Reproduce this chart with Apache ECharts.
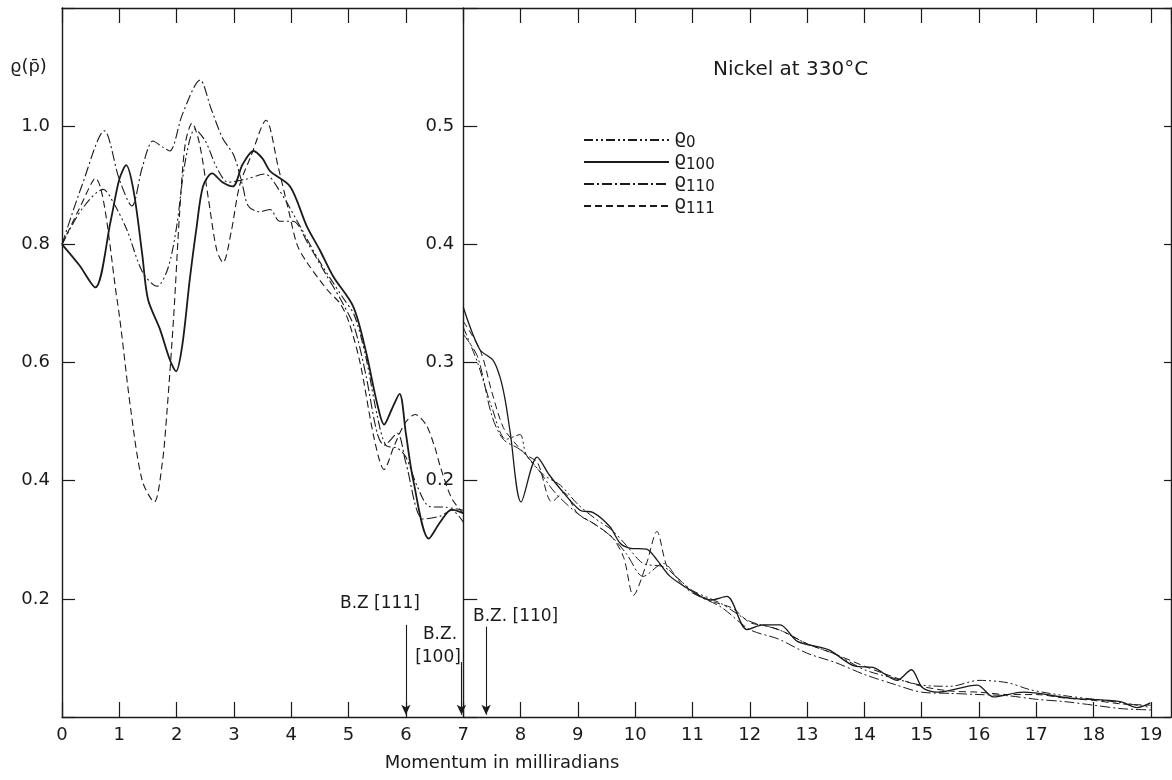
<!DOCTYPE html>
<html>
<head>
<meta charset="utf-8">
<script src="https://cdn.jsdelivr.net/npm/echarts@6/dist/echarts.min.js"></script>
<style>
html, body { margin: 0; padding: 0; background: #fff; }
#chart { width: 1172px; height: 780px; }
</style>
</head>
<body>
<div id="chart"></div>
<script>
// 左半部分 (0-7 mrad, 左侧刻度 0-1.2)
var rho0Left = [[0,0.80],[0.35,0.86],[0.72,0.893],[0.9,0.87],[1.13,0.825],[1.41,0.752],[1.66,0.729],[1.85,0.76],[2.0,0.83],[2.15,0.94],[2.32,0.995],[2.5,0.975],[2.7,0.93],[2.9,0.905],[3.2,0.91],[3.54,0.919],[3.8,0.89],[4.1,0.84],[4.5,0.77],[4.9,0.71],[5.1,0.68],[5.3,0.61],[5.5,0.51],[5.65,0.46],[5.85,0.455],[6.0,0.44],[6.2,0.39],[6.42,0.356],[6.7,0.355],[7.0,0.35]];
var rho100Left = [[0,0.80],[0.3,0.765],[0.58,0.727],[0.85,0.84],[1.0,0.91],[1.12,0.934],[1.25,0.89],[1.4,0.783],[1.5,0.707],[1.71,0.656],[1.88,0.605],[1.99,0.585],[2.1,0.63],[2.23,0.741],[2.35,0.83],[2.46,0.898],[2.62,0.92],[2.8,0.905],[2.98,0.898],[3.15,0.935],[3.34,0.958],[3.5,0.945],[3.63,0.924],[3.98,0.898],[4.27,0.831],[4.5,0.79],[4.73,0.746],[5.08,0.695],[5.3,0.62],[5.5,0.53],[5.62,0.495],[5.75,0.52],[5.89,0.547],[6.0,0.48],[6.13,0.40],[6.4,0.302],[6.6,0.33],[6.8,0.351],[7.0,0.345]];
var rho110Left = [[0,0.80],[0.35,0.90],[0.74,0.992],[1.0,0.91],[1.22,0.865],[1.4,0.93],[1.59,0.975],[1.75,0.965],[1.88,0.958],[2.1,1.02],[2.41,1.078],[2.6,1.03],[2.8,0.98],[3.0,0.95],[3.15,0.90],[3.25,0.865],[3.45,0.855],[3.63,0.859],[3.8,0.839],[4.03,0.839],[4.3,0.80],[4.6,0.75],[4.9,0.70],[5.1,0.66],[5.3,0.58],[5.5,0.48],[5.62,0.46],[5.85,0.48],[6.0,0.43],[6.3,0.335],[6.6,0.34],[6.8,0.35],[7.0,0.33]];
var rho111Left = [[0,0.80],[0.3,0.86],[0.58,0.912],[0.96,0.707],[1.2,0.52],[1.4,0.40],[1.61,0.364],[1.75,0.43],[1.83,0.515],[1.95,0.68],[2.05,0.85],[2.15,0.97],[2.27,1.005],[2.4,0.97],[2.55,0.88],[2.7,0.79],[2.81,0.769],[2.95,0.82],[3.1,0.90],[3.3,0.95],[3.56,1.01],[3.77,0.932],[3.95,0.859],[4.1,0.80],[4.27,0.77],[4.62,0.724],[4.85,0.70],[5.0,0.67],[5.2,0.60],[5.45,0.47],[5.62,0.419],[5.8,0.46],[5.99,0.498],[6.16,0.512],[6.35,0.495],[6.5,0.458],[6.6,0.424],[6.8,0.37],[7.0,0.345]];

// 右半部分 (7-19 mrad, 右侧刻度 0-0.6)
var rho0Right = [[7.0,0.33],[7.25,0.30],[7.5,0.262],[7.75,0.235],[7.99,0.239],[8.1,0.222],[8.4,0.205],[8.7,0.196],[9.0,0.18],[9.3,0.168],[9.6,0.158],[9.85,0.145],[10.14,0.13],[10.5,0.127],[10.8,0.115],[11.0,0.107],[11.5,0.096],[12.0,0.081],[12.5,0.074],[13.0,0.062],[13.5,0.053],[14.0,0.040],[14.5,0.033],[15.0,0.027],[15.5,0.026],[16.0,0.031],[16.5,0.029],[16.9,0.023],[17.5,0.018],[18.0,0.015],[18.5,0.012],[19.0,0.008]];
var rho100Right = [[7.0,0.347],[7.29,0.311],[7.52,0.302],[7.64,0.288],[7.73,0.269],[7.82,0.241],[8.01,0.182],[8.29,0.220],[8.5,0.205],[8.73,0.191],[9.04,0.175],[9.27,0.173],[9.56,0.161],[9.74,0.147],[9.9,0.143],[10.2,0.142],[10.38,0.133],[10.61,0.119],[11.01,0.106],[11.31,0.099],[11.6,0.102],[11.95,0.074],[12.23,0.078],[12.53,0.078],[12.83,0.064],[13.37,0.057],[13.84,0.043],[14.15,0.042],[14.57,0.031],[14.82,0.040],[15.01,0.025],[15.27,0.021],[15.97,0.027],[16.25,0.017],[16.77,0.021],[17.59,0.016],[18.46,0.013],[18.76,0.008],[18.99,0.012]];
var rho110Right = [[7.0,0.324],[7.25,0.305],[7.5,0.255],[7.7,0.235],[8.0,0.226],[8.3,0.21],[8.6,0.19],[9.0,0.172],[9.3,0.163],[9.6,0.152],[9.85,0.138],[10.14,0.119],[10.49,0.13],[10.8,0.113],[11.0,0.105],[11.5,0.093],[12.0,0.074],[12.5,0.066],[13.0,0.054],[13.5,0.046],[14.0,0.036],[14.5,0.028],[15.0,0.021],[15.5,0.020],[16.0,0.019],[16.5,0.018],[17.0,0.015],[17.5,0.013],[18.0,0.010],[18.5,0.007],[19.0,0.006]];
var rho111Right = [[7.0,0.335],[7.3,0.31],[7.5,0.275],[7.7,0.245],[7.9,0.232],[8.1,0.222],[8.3,0.215],[8.55,0.182],[8.75,0.19],[9.0,0.172],[9.3,0.163],[9.6,0.152],[9.8,0.135],[9.97,0.103],[10.2,0.13],[10.38,0.157],[10.56,0.127],[10.8,0.115],[11.0,0.106],[11.4,0.097],[11.7,0.092],[12.0,0.080],[12.3,0.077],[12.6,0.072],[13.0,0.062],[13.5,0.053],[14.0,0.043],[14.5,0.034],[15.0,0.026],[15.5,0.022],[16.0,0.021],[16.5,0.019],[17.0,0.019],[17.5,0.016],[18.0,0.014],[18.5,0.011],[19.0,0.010]];

var seriesNames = ['ρ0', 'ρ100', 'ρ110', 'ρ111'];
var subscripts = ['0', '100', '110', '111'];

var FONT = 'DejaVu Sans';
var INK = '#1a1a1a';

// 线型: 点划点, 实线, 点划线, 虚线
var lineTypes = [[9, 3, 2, 3, 2, 3], 'solid', [10, 3, 2, 3], [7, 4]];
var lineWidths = [1.1, 1.8, 1.1, 1.1];

var chart = echarts.init(document.getElementById('chart'), null, { renderer: 'canvas' });

function makeSeries(i, data, yIdx, width) {
    return {
        name: seriesNames[i],
        type: 'line',
        xAxisIndex: 0,
        yAxisIndex: yIdx,
        data: data,
        symbol: 'none',
        smooth: 0.3,
        silent: true,
        lineStyle: { color: INK, width: width, type: lineTypes[i] },
        itemStyle: { color: INK }
    };
}

var series = [
    makeSeries(0, rho0Left, 0, lineWidths[0]),
    makeSeries(1, rho100Left, 0, lineWidths[1]),
    makeSeries(2, rho110Left, 0, lineWidths[2]),
    makeSeries(3, rho111Left, 0, lineWidths[3]),
    makeSeries(0, rho0Right, 1, 1.0),
    makeSeries(1, rho100Right, 1, 1.3),
    makeSeries(2, rho110Right, 1, 1.0),
    makeSeries(3, rho111Right, 1, 1.0)
];

// 布里渊区边界箭头
series[1].markLine = {
    silent: true,
    symbol: ['none', 'arrow'],
    symbolSize: [7, 10],
    label: { show: false },
    lineStyle: { color: INK, width: 1.1, type: 'solid' },
    data: [
        [{ coord: [6, 0.156] }, { coord: [6, 0.004] }],
        [{ coord: [6.97, 0.093] }, { coord: [6.97, 0.004] }],
        [{ coord: [7.4, 0.153] }, { coord: [7.4, 0.004] }]
    ]
};

var axisLineStyle = { onZero: false, lineStyle: { color: INK, width: 1.4 } };

var option = {
    animation: false,
    backgroundColor: '#fff',
    grid: { left: 62, right: 1, top: 8, bottom: 63 },
    legend: {
        orient: 'vertical',
        left: 578,
        top: 124,
        itemWidth: 85,
        itemHeight: 14,
        itemGap: 0,
        selectedMode: false,
        data: seriesNames,
        itemStyle: { color: 'rgba(0,0,0,0)', borderWidth: 0, opacity: 0 },
        formatter: function (name) {
            return '{r|ϱ}{s|' + subscripts[seriesNames.indexOf(name)] + '}';
        },
        textStyle: {
            color: INK,
            fontFamily: FONT,
            lineHeight: 22,
            rich: {
                r: { fontSize: 19, fontFamily: FONT, color: INK, lineHeight: 22, verticalAlign: 'top' },
                s: { fontSize: 15, fontFamily: FONT, color: INK, lineHeight: 22, verticalAlign: 'bottom' }
            }
        }
    },
    xAxis: [{
        type: 'value',
        position: 'bottom',
        min: 0,
        max: 19.35,
        interval: 1,
        splitLine: { show: false },
        axisLine: axisLineStyle,
        axisTick: { inside: true, length: 15, lineStyle: { color: INK, width: 1.2 } },
        axisLabel: {
            margin: 9,
            fontSize: 18,
            fontFamily: FONT,
            color: INK,
            showMaxLabel: false,
            formatter: function (v) { return Math.abs(v - Math.round(v)) < 1e-6 ? String(Math.round(v)) : ''; }
        }
    }, {
        type: 'value',
        position: 'top',
        min: 0,
        max: 19.35,
        interval: 1,
        splitLine: { show: false },
        axisLine: axisLineStyle,
        axisTick: { inside: true, length: 15, lineStyle: { color: INK, width: 1.2 } },
        axisLabel: { show: false }
    }],
    yAxis: [{
        type: 'value',
        position: 'left',
        min: 0,
        max: 1.2,
        interval: 0.2,
        splitLine: { show: false },
        axisLine: axisLineStyle,
        axisTick: { inside: true, length: 13, lineStyle: { color: INK, width: 1.2 } },
        axisLabel: {
            margin: 12,
            fontSize: 18,
            fontFamily: FONT,
            color: INK,
            formatter: function (v) { return (v > 0.1 && v < 1.1) ? v.toFixed(1) : ''; }
        }
    }, {
        type: 'value',
        position: 'left',
        offset: -401.2,
        min: 0,
        max: 0.6,
        interval: 0.1,
        splitLine: { show: false },
        axisLine: axisLineStyle,
        axisTick: { inside: true, length: 14, lineStyle: { color: INK, width: 1.2 } },
        axisLabel: {
            margin: 9,
            fontSize: 18,
            fontFamily: FONT,
            color: INK,
            formatter: function (v) { return (v > 0.15 && v < 0.55) ? v.toFixed(1) : ''; }
        }
    }, {
        type: 'value',
        position: 'right',
        min: 0,
        max: 0.6,
        interval: 0.1,
        splitLine: { show: false },
        axisLine: axisLineStyle,
        axisTick: { inside: true, length: 7, lineStyle: { color: INK, width: 1.2 } },
        axisLabel: { show: false }
    }],
    graphic: [
        { type: 'text', x: 10, y: 67, style: { text: 'ϱ(p̄)', font: '18px "' + FONT + '"', fill: INK, textVerticalAlign: 'middle' } },
        { type: 'text', x: 713, y: 70, style: { text: 'Nickel at 330°C', font: '20px "' + FONT + '"', fill: INK, textVerticalAlign: 'middle' } },
        { type: 'text', x: 502, y: 763, style: { text: 'Momentum in milliradians', font: '18px "' + FONT + '"', fill: INK, textAlign: 'center', textVerticalAlign: 'middle' } },
        { type: 'text', x: 340, y: 604, style: { text: 'B.Z [111]', font: '17px "' + FONT + '"', fill: INK, textVerticalAlign: 'middle' } },
        { type: 'text', x: 440, y: 635, style: { text: 'B.Z.', font: '17px "' + FONT + '"', fill: INK, textAlign: 'center', textVerticalAlign: 'middle' } },
        { type: 'text', x: 438, y: 658, style: { text: '[100]', font: '17px "' + FONT + '"', fill: INK, textAlign: 'center', textVerticalAlign: 'middle' } },
        { type: 'text', x: 473, y: 617, style: { text: 'B.Z. [110]', font: '17px "' + FONT + '"', fill: INK, textVerticalAlign: 'middle' } }
    ],
    series: series
};

chart.setOption(option);

window.onresize = function () {
    chart.resize();
};
</script>
</body>
</html>
